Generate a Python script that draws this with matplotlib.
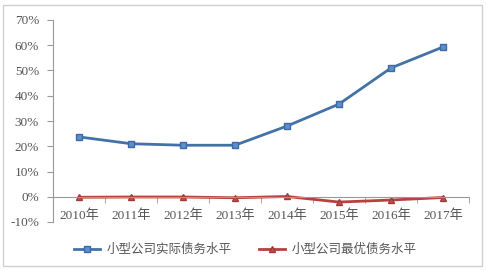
import matplotlib.pyplot as plt
from matplotlib.patches import Rectangle
from matplotlib.ticker import FuncFormatter, MultipleLocator

plt.rcParams['font.family'] = ['Liberation Serif', 'Noto Sans CJK SC', 'DejaVu Sans']

years = ['2010年', '2011年', '2012年', '2013年', '2014年', '2015年', '2016年', '2017年']
actual = [23.7, 21.0, 20.4, 20.4, 28.0, 36.7, 51.0, 59.3]
optimal = [-0.2, -0.1, -0.1, -0.4, 0.1, -2.1, -1.3, -0.3]
labels = ['小型公司实际债务水平', '小型公司最优债务水平']

fig = plt.figure(figsize=(4.86, 2.7), dpi=100)
fig.patches.append(Rectangle((3 / 486, 4 / 270), 479 / 486, 261 / 270,
                             transform=fig.transFigure, fill=False,
                             edgecolor='#d0d0d0', linewidth=1))
ax = fig.add_axes([53 / 486, 48 / 270, 416 / 486, 202 / 270])

x = range(len(years))
ax.plot(x, actual, color='#4472a8', linewidth=2, marker='s', markersize=5,
        markerfacecolor='#5b8fd0', markeredgecolor='#3e6aa0', label=labels[0])
ax.plot(x, optimal, color='#b8403e', linewidth=2, marker='^', markersize=5,
        markerfacecolor='#c0504d', markeredgecolor='#a03a38', label=labels[1])

ax.set_xlim(-0.5, len(years) - 0.5)
ax.set_ylim(-10, 70)
ax.yaxis.set_major_locator(MultipleLocator(10))
ax.yaxis.set_major_formatter(FuncFormatter(lambda v, p: f'{v:.0f}%'))

for s in ['top', 'right']:
    ax.spines[s].set_visible(False)
ax.spines['bottom'].set_position(('data', 0))
ax.spines['bottom'].set_color('#999999')
ax.spines['left'].set_color('#999999')

ax.set_xticks(list(x))
ax.set_xticklabels(years)
ax.set_xticks([i + 0.5 for i in range(-1, len(years))], minor=True)
ax.tick_params(axis='x', which='major', length=0, pad=9, labelsize=9.5, colors='#555555')
ax.tick_params(axis='x', which='minor', length=4, color='#999999', direction='out')
ax.tick_params(axis='y', length=4, color='#999999', labelsize=9.5, labelcolor='#555555', pad=6)

fig.legend(loc='lower center', bbox_to_anchor=(0.505, 0.01), ncol=2, frameon=False,
           fontsize=9, columnspacing=2.2, handlelength=2.1, handletextpad=0.5,
           labelcolor='#555555')

fig.savefig('out.png', dpi=100, facecolor='white')
